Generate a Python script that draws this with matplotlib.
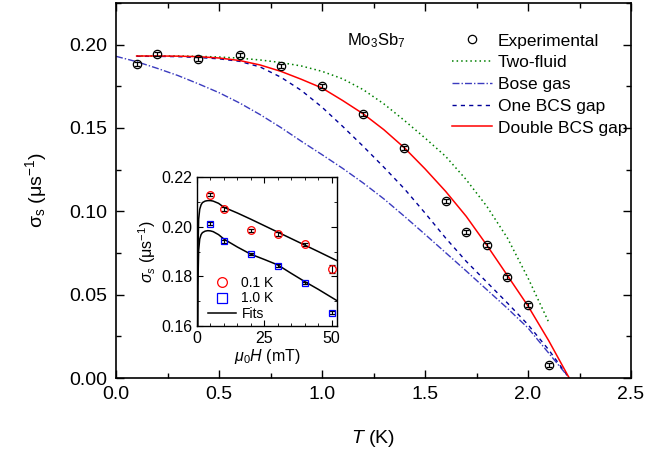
import matplotlib
matplotlib.use('Agg')
import numpy as np
import matplotlib.pyplot as plt
from matplotlib.ticker import MultipleLocator
from matplotlib.lines import Line2D

plt.rcParams['font.family'] = ['Liberation Sans', 'DejaVu Sans']
plt.rcParams['mathtext.fontset'] = 'custom'
plt.rcParams['mathtext.rm'] = 'Liberation Sans'
plt.rcParams['mathtext.it'] = 'Liberation Sans:italic'

# experimental superfluid density vs T
T_exp = [0.1, 0.2, 0.4, 0.6, 0.8, 1.0, 1.2, 1.4, 1.6, 1.7, 1.8, 1.9, 2.0, 2.1]
sig_exp = [0.1882, 0.1942, 0.1913, 0.1936, 0.1871, 0.1751, 0.1583, 0.1379,
           0.1061, 0.0875, 0.0797, 0.0606, 0.0438, 0.0078]
err_exp = [0.0012] * len(T_exp)

# model curves
T_bose = [0.0, 0.1, 0.2, 0.3, 0.4, 0.5, 0.6, 0.7, 0.8, 0.9, 1.0, 1.1, 1.2,
          1.3, 1.4, 1.5, 1.6, 1.7, 1.8, 1.9, 2.0, 2.1, 2.2]
sig_bose = [0.1930, 0.1898, 0.1858, 0.1815, 0.1765, 0.1712, 0.1650, 0.1580,
            0.1503, 0.1420, 0.1340, 0.1258, 0.1170, 0.1075, 0.0970, 0.0862,
            0.0752, 0.0642, 0.0530, 0.0418, 0.0300, 0.0150, 0.0]

T_bcs = [0.1, 0.2, 0.3, 0.4, 0.5, 0.6, 0.7, 0.8, 0.9, 1.0, 1.1, 1.2, 1.3,
         1.4, 1.5, 1.6, 1.7, 1.8, 1.9, 2.0, 2.1, 2.2]
sig_one = [0.1930, 0.1930, 0.1928, 0.1923, 0.1915, 0.1900, 0.1866, 0.1805,
           0.1725, 0.1625, 0.1510, 0.1390, 0.1265, 0.1135, 0.0990, 0.0840,
           0.0700, 0.0575, 0.0450, 0.0320, 0.0170, 0.0]
sig_double = [0.1932, 0.1932, 0.1931, 0.1928, 0.1920, 0.1905, 0.1878, 0.1840,
              0.1792, 0.1740, 0.1665, 0.1585, 0.1490, 0.1381, 0.1255, 0.1120,
              0.0970, 0.0797, 0.0615, 0.0432, 0.0225, 0.0]

T_two = [0.1, 0.2, 0.3, 0.4, 0.5, 0.6, 0.7, 0.8, 0.9, 1.0, 1.1, 1.2, 1.3,
         1.4, 1.5, 1.6, 1.7, 1.8, 1.9, 2.0, 2.1]
sig_two = [0.1932, 0.1932, 0.1932, 0.1930, 0.1926, 0.1919, 0.1908, 0.1893,
           0.1872, 0.1840, 0.1795, 0.1730, 0.1645, 0.1545, 0.1440, 0.1330,
           0.1190, 0.1030, 0.0840, 0.0600, 0.0336]

# inset: field dependence
H = [5, 10, 20, 30, 40, 50]
sig_01K = [0.2128, 0.2071, 0.1985, 0.1970, 0.1930, 0.1830]
err_01K = [0.0006, 0.0008, 0.0006, 0.0008, 0.0006, 0.0015]
sig_10K = [0.2012, 0.1942, 0.1889, 0.1843, 0.1774, 0.1654]
err_10K = [0.0006, 0.0006, 0.0005, 0.0006, 0.0005, 0.0005]

H_fit = [0.05, 0.3, 0.6, 1.0, 1.5, 2.0, 3.0, 4.0, 5.0, 6.0, 8.0, 10.0, 15.0,
         20.0, 25.0, 30.0, 35.0, 40.0, 45.0, 52.0]
fit_01K = [0.120, 0.188, 0.2030, 0.2070, 0.2088, 0.2097, 0.2103, 0.2105,
           0.2105, 0.2103, 0.2094, 0.2078, 0.2055, 0.2030, 0.2004, 0.1978,
           0.1952, 0.1926, 0.1900, 0.1863]
fit_10K = [0.110, 0.176, 0.1905, 0.1950, 0.1968, 0.1976, 0.1982, 0.1984,
           0.1983, 0.1980, 0.1968, 0.1950, 0.1918, 0.1889, 0.1868, 0.1846,
           0.1812, 0.1779, 0.1748, 0.1702]

fig = plt.figure(figsize=(6.46, 4.54), dpi=100)
ax = fig.add_axes([0.1796, 0.1674, 0.7972, 0.826])

c_two, c_bose, c_one, c_dbl = '#008000', '#3b3bbf', '#000099', '#ff0000'
ls_two = (0, (1, 2))
ls_bose = (0, (5, 1.5, 1, 1.5))
ls_one = (0, (3, 3))

ax.errorbar(T_exp, sig_exp, yerr=err_exp, fmt='o', mfc='none', mec='black',
            ecolor='black', ms=6, mew=0.9, elinewidth=0.9, capsize=2.5, zorder=5)
ax.plot(T_two, sig_two, color=c_two, ls=ls_two, lw=1.1)
ax.plot(T_bose, sig_bose, color=c_bose, ls=ls_bose, lw=1.0)
ax.plot(T_bcs, sig_one, color=c_one, ls=ls_one, lw=1.0)
ax.plot(T_bcs, sig_double, color=c_dbl, ls='-', lw=1.1)

ax.set_xlim(0, 2.5)
ax.set_ylim(0, 0.225)
ax.xaxis.set_major_locator(MultipleLocator(0.5))
ax.xaxis.set_minor_locator(MultipleLocator(0.25))
ax.yaxis.set_major_locator(MultipleLocator(0.05))
ax.yaxis.set_minor_locator(MultipleLocator(0.025))
ax.xaxis.set_major_formatter(plt.FormatStrFormatter('%.1f'))
ax.yaxis.set_major_formatter(plt.FormatStrFormatter('%.2f'))
ax.tick_params(which='both', direction='in', top=True, right=True, width=1.0)
ax.tick_params(which='major', length=6, labelsize=14, pad=6)
ax.tick_params(which='minor', length=3.5)
for s in ax.spines.values():
    s.set_linewidth(1.2)
ax.set_xlabel('$T$ (K)', fontsize=14, labelpad=18)
ax.set_ylabel(r'$\mathrm{\sigma_s}$ ($\mathrm{\mu s^{-1}}$)', fontsize=14, labelpad=15)

ax.text(0.4485, 0.888, r'Mo$_3$Sb$_7$', transform=ax.transAxes, fontsize=12,
        va='baseline')

handles = [Line2D([], [], ls='none', marker='o', mfc='none', mec='black', ms=6, mew=0.9),
           Line2D([], [], color=c_two, ls=ls_two, lw=1.1),
           Line2D([], [], color=c_bose, ls=ls_bose, lw=1.0),
           Line2D([], [], color=c_one, ls=ls_one, lw=1.0),
           Line2D([], [], color=c_dbl, lw=1.1)]
labels = ['Experimental', 'Two-fluid', 'Bose gas', 'One BCS gap', 'Double BCS gap']
ax.legend(handles, labels, loc='upper left', bbox_to_anchor=(0.652, 0.919),
          frameon=False, fontsize=12.5, handlelength=2.3, handletextpad=0.35,
          labelspacing=0.38, borderpad=0, borderaxespad=0)

# inset
ins = fig.add_axes([0.305, 0.2819, 0.2167, 0.3282])
ins.plot(H_fit, fit_01K, color='black', lw=1.1, zorder=2)
ins.plot(H_fit, fit_10K, color='black', lw=1.1, zorder=2)
ins.errorbar(H, sig_01K, yerr=err_01K, fmt='o', mfc='none', mec='red', ecolor='black',
             ms=5.5, mew=0.9, elinewidth=0.8, capsize=2, zorder=4)
ins.errorbar(H, sig_10K, yerr=err_10K, fmt='s', mfc='none', mec='blue', ecolor='black',
             ms=5, mew=0.9, elinewidth=0.8, capsize=2, zorder=4)
ins.set_xlim(0, 52)
ins.set_ylim(0.16, 0.22)
ins.xaxis.set_major_locator(MultipleLocator(25))
ins.xaxis.set_minor_locator(MultipleLocator(5))
ins.yaxis.set_major_locator(MultipleLocator(0.02))
ins.yaxis.set_minor_locator(MultipleLocator(0.01))
ins.yaxis.set_major_formatter(plt.FormatStrFormatter('%.2f'))
ins.tick_params(which='both', direction='in', top=True, right=True)
ins.tick_params(which='major', length=4, labelsize=11.5)
ins.tick_params(which='minor', length=2.5)
for s in ins.spines.values():
    s.set_linewidth(1.0)
ins.set_xlabel(r'$\mu_0H$ (mT)', fontsize=11.5, labelpad=1)
ins.set_ylabel(r'$\sigma_s$ ($\mathrm{\mu s^{-1}}$)', fontsize=11.5, labelpad=2)
ins_handles = [Line2D([], [], ls='none', marker='o', mfc='none', mec='red', ms=7, mew=0.9),
               Line2D([], [], ls='none', marker='s', mfc='none', mec='blue', ms=6.5, mew=0.9),
               Line2D([], [], color='black', lw=1.1)]
ins.legend(ins_handles, ['0.1 K', '1.0 K', 'Fits'], loc='lower left',
           bbox_to_anchor=(0.01, -0.03), frameon=False, fontsize=10,
           handlelength=2.0, handletextpad=0.4, labelspacing=0.1, borderpad=0.2)

plt.savefig('out.png', dpi=100)
